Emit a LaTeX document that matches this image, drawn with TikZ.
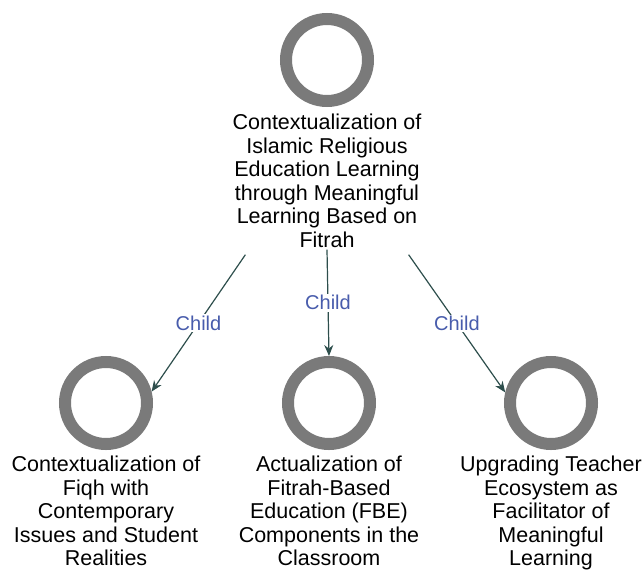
\documentclass[tikz,border=0pt]{standalone}
\usepackage{fontspec}
\setmainfont{Liberation Sans}
\usepackage{tikz}
\usetikzlibrary{positioning}
\usetikzlibrary{arrows.meta}
\definecolor{ringgray}{RGB}{122,122,122}
\definecolor{linkslate}{RGB}{45,78,76}
\definecolor{childblue}{RGB}{72,92,172}
\tikzstyle{ring} = [circle, draw=ringgray, line width=12pt, minimum size=82pt, inner sep=0pt]
\tikzstyle{caption} = [align=center, inner sep=0pt, font=\fontsize{21.5}{23.5}\selectfont]
\tikzstyle{arrow} = [draw=linkslate, line width=1.2pt, -{Stealth[length=11pt, width=9pt]}]
\tikzstyle{childlabel} = [fill=white, text=childblue, inner sep=1.5pt, font=\fontsize{20}{22}\selectfont]

\begin{document}
\begin{tikzpicture}[x=1pt, y=-1pt]
        \useasboundingbox (0,0) rectangle (643,571);
        \node (root) [ring] at (327,60) {};
        \node (rootcap) [caption, below=7pt of root] {Contextualization of\\Islamic Religious\\Education Learning\\through Meaningful\\Learning Based on\\Fitrah};
        \node (fiqh) [ring] at (106,403) {};
        \node (fiqhcap) [caption, below=6pt of fiqh] {Contextualization of\\Fiqh with\\Contemporary\\Issues and Student\\Realities};
        \node (fbe) [ring] at (329,403) {};
        \node (fbecap) [caption, below=6pt of fbe] {Actualization of\\Fitrah-Based\\Education (FBE)\\Components in the\\Classroom};
        \node (teacher) [ring] at (551,403) {};
        \node (teachercap) [caption, below=6pt of teacher] {Upgrading Teacher\\Ecosystem as\\Facilitator of\\Meaningful\\Learning};

        \draw [arrow] ([xshift=13pt, yshift=-7pt]rootcap.south west) -- node[childlabel] {Child} (fiqh.14);
        \draw [arrow] ([yshift=-2pt]rootcap.south) -- node[childlabel] {Child} (fbe.north);
        \draw [arrow] ([xshift=-13pt, yshift=-7pt]rootcap.south east) -- node[childlabel] {Child} (teacher.167);
    \end{tikzpicture}
\end{document}
